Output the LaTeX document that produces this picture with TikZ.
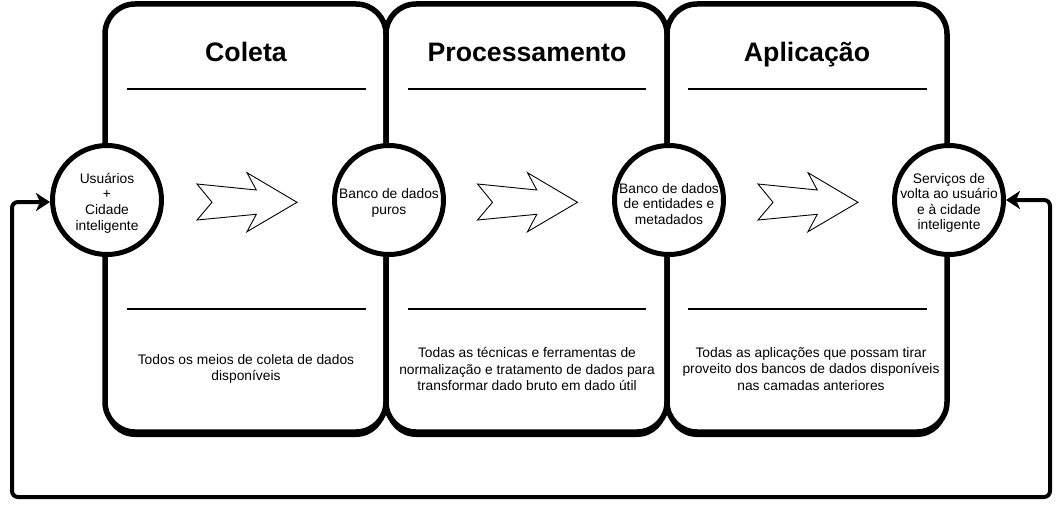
\documentclass[tikz,border=0pt]{standalone}
\usepackage{fontspec}
\setmainfont{Liberation Sans}
\usetikzlibrary{arrows.meta}
\begin{document}
\begin{tikzpicture}[x=1pt,y=-1pt,
  panel/.style={draw=black,line width=5.5pt,fill=white,rounded corners=30pt},
  shadowpanel/.style={fill=black,rounded corners=30pt},
  sepline/.style={draw=black,line width=1.5pt},
  circ/.style={circle,draw=black,line width=5pt,fill=white,minimum size=109pt,inner sep=0pt},
  ctext/.style={align=center,font=\fontsize{13.8}{15.6}\selectfont,inner sep=0pt},
  btext/.style={align=center,font=\fontsize{13.8}{16.2}\selectfont,inner sep=0pt},
  ttext/.style={font=\fontsize{26.7}{30}\selectfont\bfseries,inner sep=0pt,anchor=base},
  blockarrow/.style={draw=black,line width=0.9pt,fill=white,line join=miter},
  loop/.style={draw=black,line width=4pt,rounded corners=6pt,{Stealth[length=14pt,width=18pt,inset=4pt]}-{Stealth[length=14pt,width=18pt,inset=4pt]}}
]
\useasboundingbox (0,0) rectangle (1063,511);
% shadows
\foreach \xa/\xb in {105/386,386/667,667/947}{
  \fill[shadowpanel] (\xa,8) rectangle (\xb,437);
}
% panels
\foreach \xa/\xb in {105/386,386/667,667/947}{
  \draw[panel] (\xa,4) rectangle (\xb,432);
}
% separators
\foreach \xa/\xb in {127/366,408/646,688/927}{
  \draw[sepline] (\xa,89) -- (\xb,89);
  \draw[sepline] (\xa,309) -- (\xb,309);
}
% titles
\node[ttext] (t1) at (246,62) {Coleta};
\node[ttext] (t2) at (527,62) {Processamento};
\node[ttext] (t3) at (807,62) {Aplicação};
% bottom texts
\node[btext] (b1) at (246,369) {Todos os meios de coleta de dados\\disponíveis};
\node[btext] (b2) at (527,369) {Todas as técnicas e ferramentas de\\normalização e tratamento de dados para\\transformar dado bruto em dado útil};
\node[btext] (b3) at (811,369) {Todas as aplicações que possam tirar\\proveito dos bancos de dados disponíveis\\nas camadas anteriores};
% block arrows
\foreach \ox in {197,477.5,758}{
  \draw[blockarrow,shift={(\ox,202.3)}] (0,-18.3) -- (59.3,-12.3) -- (50,-29.6) -- (100,0) -- (50,29.4) -- (59.3,12) -- (0,17.7) -- (15,0) -- cycle;
}
% circles
\node[circ] (c1) at (107,200) {};
\node[circ] (c2) at (389,200) {};
\node[circ] (c3) at (669,200) {};
\node[circ] (c4) at (949,200) {};
\node[ctext] (l1) at (107,203) {Usuários\\+\\Cidade\\inteligente};
\node[ctext] (l2) at (389,203) {Banco de dados\\puros};
\node[ctext] (l3) at (669,204) {Banco de dados\\de entidades e\\metadados};
\node[ctext] (l4) at (949,203) {Serviços de\\volta ao usuário\\e à cidade\\inteligente};
% feedback loop
\draw[loop] (c4.east) -- (1050,200) -- (1050,497) -- (12,497) -- (12,202) -- (c1.west |- 0,202);
\end{tikzpicture}
\end{document}
